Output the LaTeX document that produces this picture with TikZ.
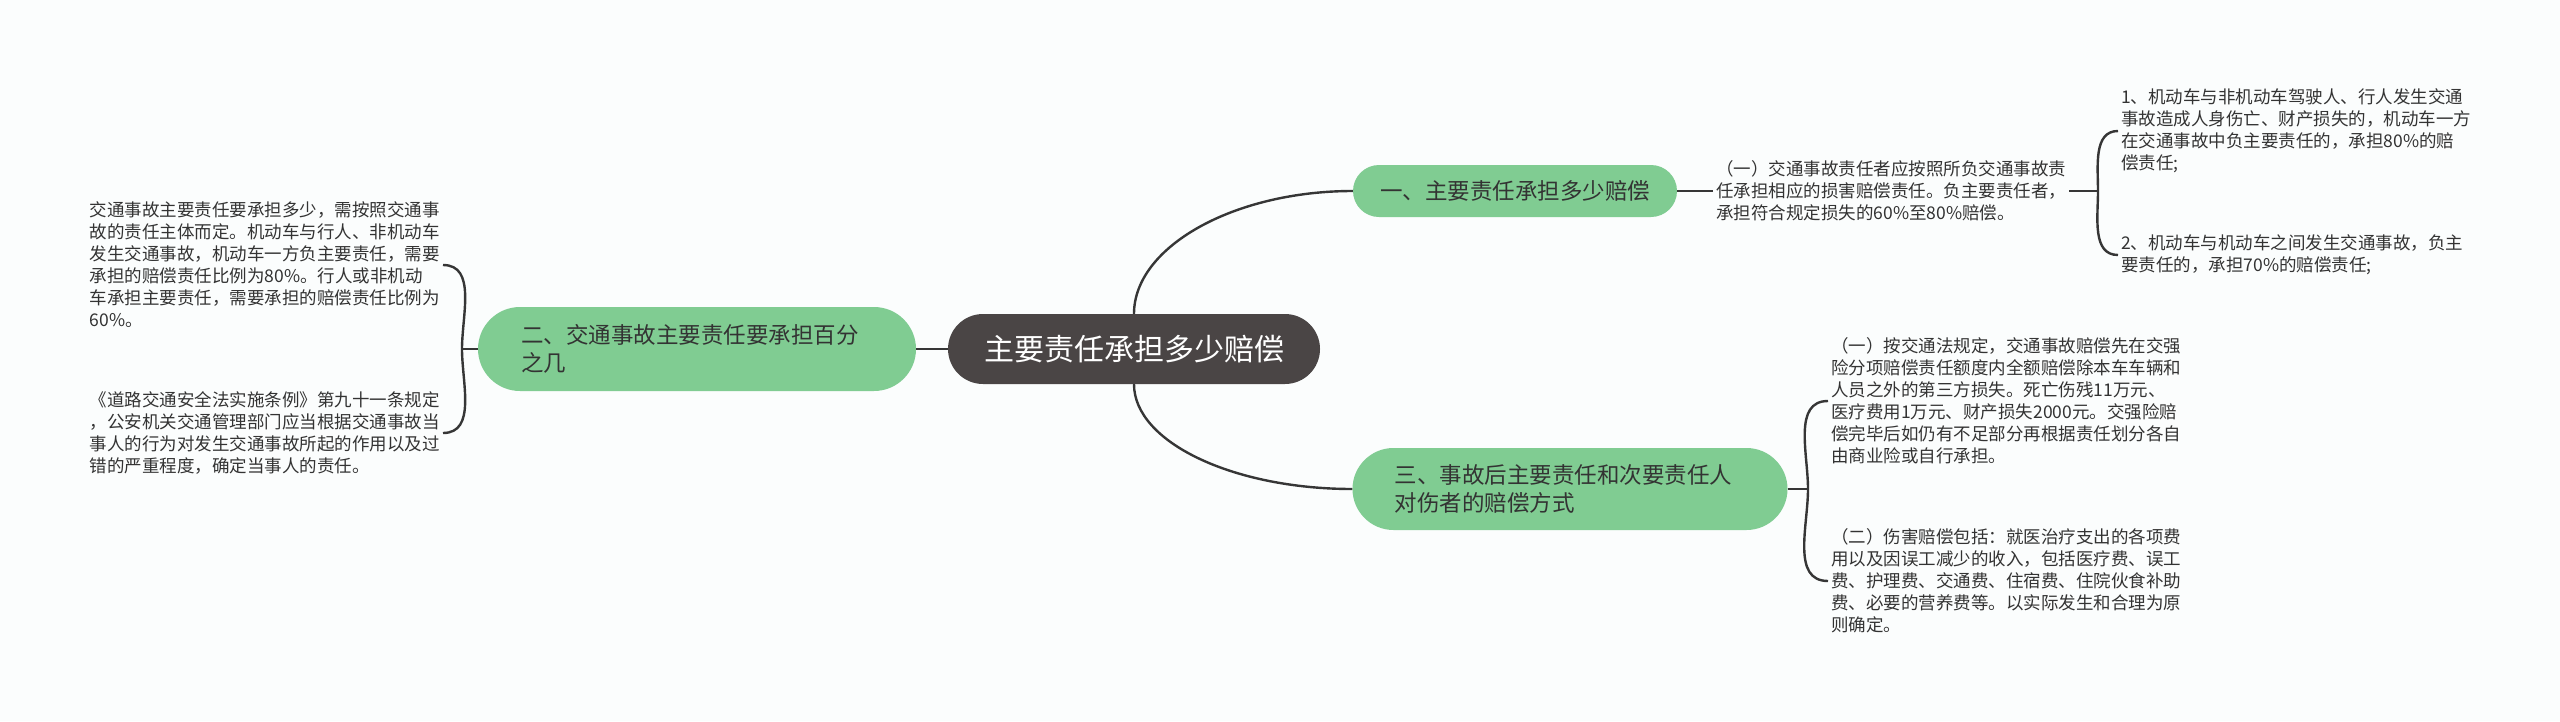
\documentclass[tikz,border=0pt]{standalone}
\usepackage{fontspec}
\setmainfont{Noto Sans CJK SC}
\usetikzlibrary{calc}
\definecolor{mmBg}{HTML}{FBFDFD}
\definecolor{mmRoot}{HTML}{4A4545}
\definecolor{mmLeaf}{HTML}{80CC92}
\definecolor{mmLine}{HTML}{363636}
\definecolor{mmText}{HTML}{333333}
\tikzset{
  link/.style={draw=mmLine, line width=2.4pt},
  rootbox/.style={fill=mmRoot, text=white, rounded corners=35pt, minimum height=70pt,
    inner xsep=36pt, font=\fontsize{30}{36}\selectfont},
  topicbox/.style={fill=mmLeaf, text=mmText, align=left,
    font=\fontsize{22.5}{28}\selectfont},
  note/.style={text=mmText, align=left, inner xsep=3pt, inner ysep=2pt,
    font=\fontsize{17.5}{22}\selectfont},
}

\begin{document}
\begin{tikzpicture}[x=1pt, y=1pt]
  \fill[mmBg] (0,0) rectangle (2560,-721);
  \useasboundingbox (0,0) rectangle (2560,-721);

  % ---- centre ----
  \node[rootbox] (root) at (1134,-349) {主要责任承担多少赔偿};

  % ---- topics ----
  \node[topicbox, rounded corners=26pt, minimum height=52pt, inner xsep=27pt]
    (n1) at (1515,-191) {一、主要责任承担多少赔偿};
  \node[topicbox, rounded corners=42pt, minimum height=84pt, inner xsep=43pt, text width=352pt]
    (n2) at (697,-349) {二、交通事故主要责任要承担百分\\之几};
  \node[topicbox, rounded corners=41pt, minimum height=82pt, inner xsep=42pt, text width=351pt]
    (n3) at (1570,-489) {三、事故后主要责任和次要责任人\\对伤者的赔偿方式};

  \draw[link] (root.west) -- (n2.east);
  \draw[link] (root.north) .. controls +(0,67) and +(-119,0) .. (n1.west);
  \draw[link] (root.south) .. controls +(0,-58) and +(-119,0) .. (n3.west);

  % ---- right: first topic ----
  \node[note, anchor=west] (t1) at (1713,-191)
    {（一）交通事故责任者应按照所负交通事故责\\任承担相应的损害赔偿责任。负主要责任者，\\承担符合规定损失的60\%至80\%赔偿。};
  \node[note, anchor=west] (c1) at (2118,-131)
    {1、机动车与非机动车驾驶人、行人发生交通\\事故造成人身伤亡、财产损失的，机动车一方\\在交通事故中负主要责任的，承担80\%的赔\\偿责任;};
  \node[note, anchor=west] (c2) at (2118,-255)
    {2、机动车与机动车之间发生交通事故，负主\\要责任的，承担70\%的赔偿责任;};
  \coordinate (f1) at (2098,-191);
  \draw[link] (n1.east) -- (t1.west);
  \draw[link] (t1.east) -- (f1);
  \foreach \c/\o in {c1/90, c2/-90}
    \draw[link] (f1) to[out=\o, in=180] (\c.west);

  % ---- left: second topic ----
  \node[note, anchor=east] (l1) at (443,-265)
    {交通事故主要责任要承担多少，需按照交通事\\故的责任主体而定。机动车与行人、非机动车\\发生交通事故，机动车一方负主要责任，需要\\承担的赔偿责任比例为80\%。行人或非机动\\车承担主要责任，需要承担的赔偿责任比例为\\60\%。};
  \node[note, anchor=east] (l2) at (443,-433)
    {《道路交通安全法实施条例》第九十一条规定\\，公安机关交通管理部门应当根据交通事故当\\事人的行为对发生交通事故所起的作用以及过\\错的严重程度，确定当事人的责任。};
  \coordinate (f2) at (462,-349);
  \draw[link] (n2.west) -- (f2);
  \foreach \c/\o in {l1/90, l2/-90}
    \draw[link] (f2) to[out=\o, in=0] (\c.east);

  % ---- right: third topic ----
  \node[note, anchor=west] (t3a) at (1828,-401)
    {（一）按交通法规定，交通事故赔偿先在交强\\险分项赔偿责任额度内全额赔偿除本车车辆和\\人员之外的第三方损失。死亡伤残11万元、\\医疗费用1万元、财产损失2000元。交强险赔\\偿完毕后如仍有不足部分再根据责任划分各自\\由商业险或自行承担。};
  \node[note, anchor=west] (t3b) at (1828,-581)
    {（二）伤害赔偿包括：就医治疗支出的各项费\\用以及因误工减少的收入，包括医疗费、误工\\费、护理费、交通费、住宿费、住院伙食补助\\费、必要的营养费等。以实际发生和合理为原\\则确定。};
  \coordinate (f3) at (1808,-489);
  \draw[link] (n3.east) -- (f3);
  \foreach \c/\o in {t3a/90, t3b/-90}
    \draw[link] (f3) to[out=\o, in=180] (\c.west);
\end{tikzpicture}
\end{document}
